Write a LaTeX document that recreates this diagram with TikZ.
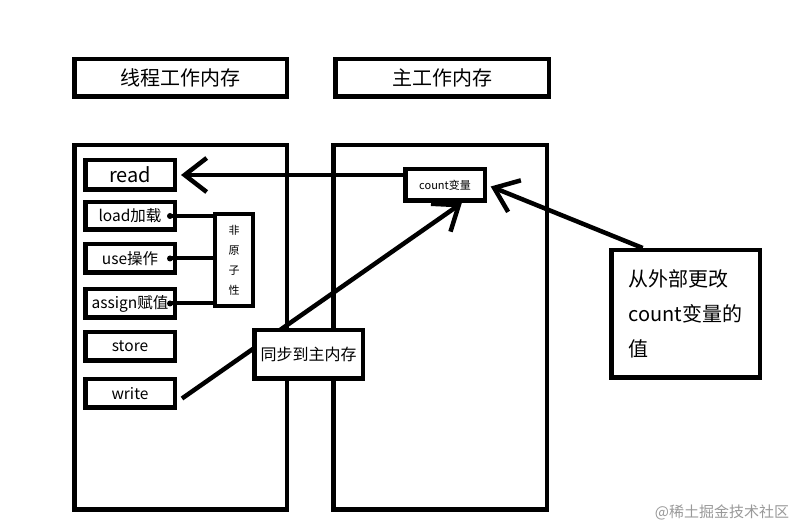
\documentclass[tikz,border=0pt]{standalone}
\usepackage{fontspec}
\setmainfont{Noto Sans CJK SC}
\usetikzlibrary{arrows.meta,calc}
\begin{document}
\begin{tikzpicture}[x=1pt,y=-1pt,
  bx/.style={draw,line width=4.5pt,fill=white,inner sep=0pt,anchor=center},
  arr/.style={line width=4.5pt,-{Straight Barb[length=22pt,width=34pt]}},
  lnk/.style={line width=4pt},
  fbig/.style={font=\fontsize{20}{24}\selectfont},
  fmid/.style={font=\fontsize{15.5}{18}\selectfont},
  fsmall/.style={font=\fontsize{11}{13}\selectfont}]
\useasboundingbox (0,0) rectangle (807,529);
% titles
\node[bx,fbig,minimum width=212.5pt,minimum height=37.5pt] (t1) at (180.5,78) {线程工作内存};
\node[bx,fbig,minimum width=213.5pt,minimum height=37.5pt] (t2) at (442,78) {主工作内存};
% big boxes
\node[bx,minimum width=212.5pt,minimum height=364.5pt] (lb) at (180.5,327.5) {};
\node[bx,minimum width=213.5pt,minimum height=364.5pt] (rb) at (440,327.5) {};
% operations
\node[bx,fbig,minimum width=89.5pt,minimum height=29.5pt] (rd) at (130,175) {read};
\node[bx,fmid,minimum width=89.5pt,minimum height=27.5pt] (ld) at (130,216) {load加载};
\node[bx,fmid,minimum width=89.5pt,minimum height=28.5pt] (us) at (130,258.5) {use操作};
\node[bx,fmid,minimum width=89.5pt,minimum height=28.5pt] (as) at (130,303.5) {assign赋值};
\node[bx,fmid,minimum width=89.5pt,minimum height=28.5pt] (st) at (130,346.5) {store};
\node[bx,fmid,minimum width=89.5pt,minimum height=28.5pt] (wr) at (130,393.5) {write};
% non-atomic box
\node[bx,fsmall,minimum width=38pt,minimum height=92pt,align=center,
  font=\fontsize{11}{20}\selectfont] (na) at (234,260) {非\\原\\子\\性};
% links to non-atomic
\foreach \n in {ld,us,as}{
  \fill ($(\n.east)+(-7,0)$) coordinate (\n d) circle (3pt);
  \draw[lnk] (\n d) -- (na.west |- \n d);
}
% count variable box
\node[bx,fsmall,minimum width=79.5pt,minimum height=31.5pt] (cnt) at (445,185) {count变量};
% external box
\node[bx,fbig,minimum width=148.5pt,minimum height=127.5pt,align=left,
  font=\fontsize{20}{35}\selectfont] (ext) at (685.5,314) {从外部更改\\count变量的\\值};
% arrows
\draw[arr,shorten >=4pt] (cnt.west |- rd.east) -- (rd.east);
\coordinate (wst) at ($(wr.east)+(5,5)$);
\coordinate (cbt) at ($(cnt.south west)!0.7!(cnt.south east)$);
\draw[arr] (wst) -- (cbt);
\coordinate (etp) at ($(ext.north west)!0.22!(ext.north east)$);
\draw[arr,shorten >=4pt] (etp) -- (cnt.east);
% sync box on top
\node[bx,fmid,minimum width=108.5pt,minimum height=48.5pt,font=\fontsize{16}{19}\selectfont] (sy) at (308.5,354.5) {同步到主内存};
% watermark
\node[text=black!40,font=\fontsize{15}{18}\selectfont] (wm) at (722,512) {@稀土掘金技术社区};
\end{tikzpicture}
\end{document}
